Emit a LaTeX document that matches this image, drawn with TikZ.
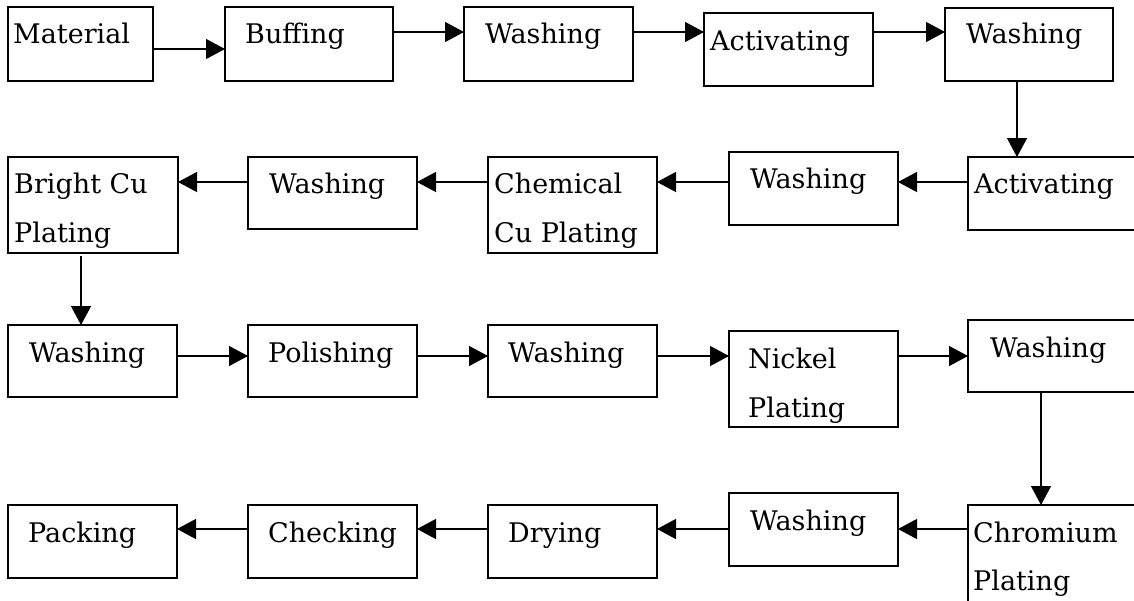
\documentclass[tikz,border=0pt]{standalone}
\usepackage{fontspec}
\setmainfont{DejaVu Serif}
\usetikzlibrary{arrows.meta}
\begin{document}
\begin{tikzpicture}[x=1pt,y=-1pt,
  box/.style={draw, line width=1.3pt, rectangle, anchor=north west, inner sep=0pt, outer sep=0pt},
  lbl/.style={anchor=base west, inner sep=0pt, font=\fontsize{27}{31}\selectfont},
  arr/.style={line width=1.3pt, -{Triangle[length=19pt,width=20pt]}}]
\clip (0,0) rectangle (1134,600);
% process boxes: name, top-left corner, size
\newcommand\proc[5]{\node[box, minimum width=#4pt, minimum height=#5pt] (#1) at (#2,#3) {};}
% row 1
\proc{m}{8}{7}{145}{74}
\proc{b}{225}{7}{168}{74}
\proc{wa}{464}{7}{169}{74}
\proc{aa}{704}{13}{169}{73}
\proc{wb}{945}{8}{168}{73}
% row 2
\proc{ab}{968}{157}{180}{73}
\proc{wc}{729}{152}{169}{73}
\proc{c}{488}{157}{169}{96}
\proc{wd}{248}{157}{169}{72}
\proc{bc}{8}{157}{170}{96}
% row 3
\proc{we}{8}{325}{169}{72}
\proc{p}{248}{325}{169}{72}
\proc{wf}{488}{325}{169}{72}
\proc{n}{729}{331}{169}{96}
\proc{wg}{968}{320}{180}{72}
% row 4
\proc{cr}{968}{505}{180}{120}
\proc{wh}{729}{493}{169}{73}
\proc{d}{488}{505}{169}{73}
\proc{ck}{248}{505}{169}{73}
\proc{pk}{8}{505}{169}{73}
% labels
\node[lbl] (tm) at (13,43) {Material};
\node[lbl] (tb) at (245,43) {Buffing};
\node[lbl] (twa) at (485,43) {Washing};
\node[lbl] (taa) at (710,50) {Activating};
\node[lbl] (twb) at (966,43) {Washing};
\node[lbl] (tab) at (974,193) {Activating};
\node[lbl] (twc) at (750,188) {Washing};
\node[lbl] (tc1) at (494,193) {Chemical};
\node[lbl] (tc2) at (494,242) {Cu Plating};
\node[lbl] (twd) at (269,193) {Washing};
\node[lbl] (tbc1) at (14,193) {Bright Cu};
\node[lbl] (tbc2) at (14,242) {Plating};
\node[lbl] (twe) at (29,362) {Washing};
\node[lbl] (tp) at (268,362) {Polishing};
\node[lbl] (twf) at (508,362) {Washing};
\node[lbl] (tn1) at (748,368) {Nickel};
\node[lbl] (tn2) at (748,417) {Plating};
\node[lbl] (twg) at (990,357) {Washing};
\node[lbl] (tcr1) at (973,542) {Chromium};
\node[lbl] (tcr2) at (973,590) {Plating};
\node[lbl] (twh) at (750,530) {Washing};
\node[lbl] (td) at (508,542) {Drying};
\node[lbl] (tck) at (268,542) {Checking};
\node[lbl] (tpk) at (28,542) {Packing};
% connectors
\draw[arr] (m.east |- 0,49) -- (b.west |- 0,49);
\draw[arr] (b.east |- 0,32) -- (wa.west |- 0,32);
\draw[arr] (wa.east |- 0,32) -- (aa.west |- 0,32);
\draw[arr] (aa.east |- 0,32) -- (wb.west |- 0,32);
\draw[arr] (wb.south -| 1017,0) -- (ab.north -| 1017,0);
\draw[arr] (ab.west |- 0,182) -- (wc.east |- 0,182);
\draw[arr] (wc.west |- 0,182) -- (c.east |- 0,182);
\draw[arr] (c.west |- 0,182) -- (wd.east |- 0,182);
\draw[arr] (wd.west |- 0,182) -- (bc.east |- 0,182);
\draw[arr] ([yshift=-3pt]bc.south -| 81,0) -- (we.north -| 81,0);
\draw[arr] (we.east |- 0,356) -- (p.west |- 0,356);
\draw[arr] (p.east |- 0,356) -- (wf.west |- 0,356);
\draw[arr] (wf.east |- 0,356) -- (n.west |- 0,356);
\draw[arr] (n.east |- 0,356) -- (wg.west |- 0,356);
\draw[arr] (wg.south -| 1041,0) -- (cr.north -| 1041,0);
\draw[arr] (cr.west |- 0,529) -- (wh.east |- 0,529);
\draw[arr] (wh.west |- 0,529) -- (d.east |- 0,529);
\draw[arr] (d.west |- 0,529) -- (ck.east |- 0,529);
\draw[arr] (ck.west |- 0,529) -- (pk.east |- 0,529);
\end{tikzpicture}
\end{document}
